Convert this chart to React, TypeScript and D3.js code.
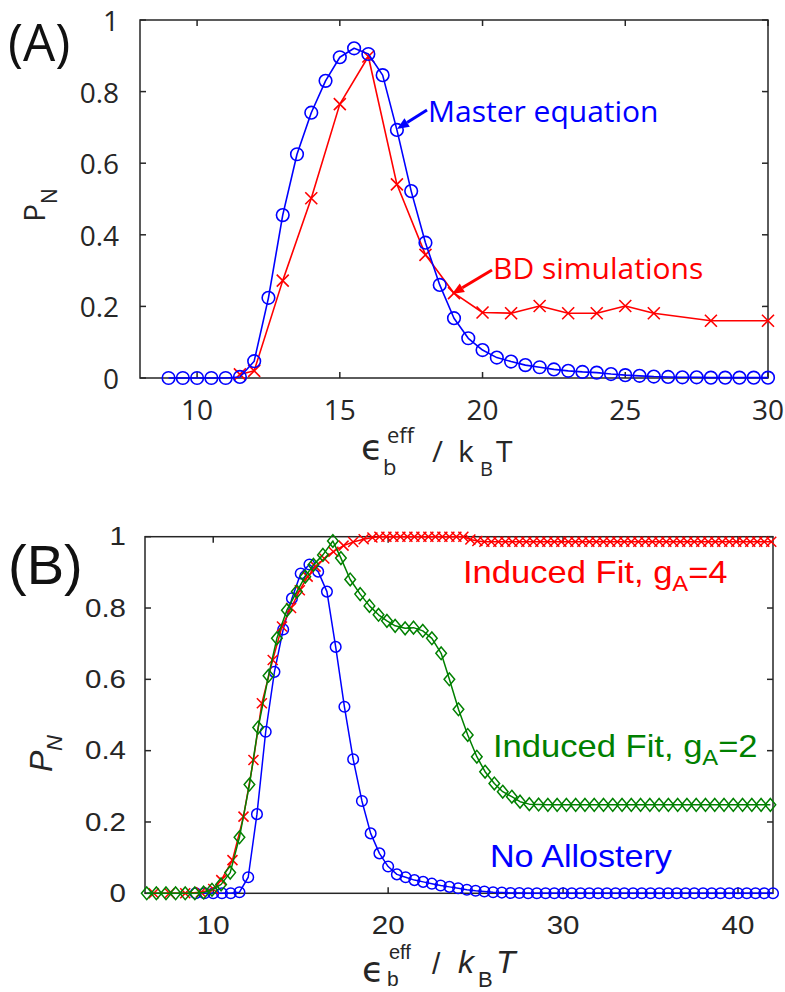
import React from "react";
import * as d3 from "d3";

const W = 785;
const H = 992;

// ---------- Panel A data ----------
const xA_master = [9, 9.5, 10, 10.5, 11, 11.5, 12, 12.5, 13, 13.5, 14, 14.5, 15, 15.5, 16, 16.5, 17, 17.5, 18, 18.5, 19, 19.5, 20, 20.5, 21, 21.5, 22, 22.5, 23, 23.5, 24, 24.5, 25, 25.5, 26, 26.5, 27, 27.5, 28, 28.5, 29, 29.5, 30];
const yA_master = [0, 0, 0, 0, 0, 0.003, 0.047, 0.224, 0.455, 0.625, 0.741, 0.83, 0.896, 0.921, 0.905, 0.846, 0.693, 0.522, 0.378, 0.26, 0.167, 0.111, 0.078, 0.057, 0.046, 0.036, 0.03, 0.024, 0.02, 0.017, 0.015, 0.011, 0.008, 0.006, 0.004, 0.003, 0.002, 0.002, 0.001, 0.001, 0.001, 0.001, 0.001];
const xA_bd = [11.5, 12, 13, 14, 15, 16, 17, 18, 19, 20, 21, 22, 23, 24, 25, 26, 28, 30];
const yA_bd = [0.01, 0.02, 0.272, 0.502, 0.765, 0.898, 0.541, 0.344, 0.237, 0.183, 0.181, 0.201, 0.181, 0.181, 0.201, 0.181, 0.16, 0.16];

const ticksAx = [10, 15, 20, 25, 30];
const ticksY = [0, 0.2, 0.4, 0.6, 0.8, 1];
const tickLabelsY = ["0", "0.2", "0.4", "0.6", "0.8", "1"];

// ---------- Panel B data ----------
const xB_none = [9, 9.5, 10, 10.5, 11, 11.5, 12, 12.5, 13, 13.5, 14, 14.5, 15, 15.5, 16, 16.5, 17, 17.5, 18, 18.5, 19, 19.5, 20, 20.5, 21, 21.5, 22, 22.5, 23, 23.5, 24, 24.5, 25, 25.5, 26, 26.5, 27, 27.5, 28, 28.5, 29, 29.5, 30, 30.5, 31, 31.5, 32, 32.5, 33, 33.5, 34, 34.5, 35, 35.5, 36, 36.5, 37, 37.5, 38, 38.5, 39, 39.5, 40, 40.5, 41, 41.5, 42];
const yB_none = [0, 0, 0, 0, 0, 0.003, 0.045, 0.222, 0.453, 0.621, 0.74, 0.827, 0.897, 0.922, 0.902, 0.846, 0.691, 0.523, 0.376, 0.259, 0.168, 0.112, 0.075, 0.053, 0.045, 0.037, 0.032, 0.027, 0.022, 0.018, 0.014, 0.01, 0.007, 0.005, 0.003, 0.002, 0.001, 0.001, 0, 0, 0, 0, 0, 0, 0, 0, 0, 0, 0, 0, 0, 0, 0, 0, 0, 0, 0, 0, 0, 0, 0, 0, 0, 0, 0, 0, 0];

const xB_fit2 = [6.2, 6.75, 7.3, 7.85, 8.4, 8.95, 9.45, 9.93, 10.45, 10.97, 11.5, 12.07, 12.57, 13.16, 13.64, 14.21, 14.78, 15.26, 15.73, 16.27, 16.84, 17.3, 17.83, 18.4, 18.93, 19.45, 19.93, 20.4, 20.97, 21.45, 21.98, 22.5, 23.03, 23.5, 24.02, 24.55, 25.07, 25.54, 26.07, 26.55, 27.07, 27.54, 28.07, 28.6, 29.13, 29.66, 30.19, 30.72, 31.25, 31.78, 32.31, 32.84, 33.37, 33.9, 34.43, 34.96, 35.49, 36.02, 36.55, 37.08, 37.61, 38.14, 38.67, 39.2, 39.73, 40.26, 40.79, 41.32, 41.85];
const yB_fit2 = [0, 0, 0, 0, 0, 0, 0.002, 0.01, 0.025, 0.058, 0.157, 0.305, 0.465, 0.61, 0.715, 0.794, 0.846, 0.888, 0.921, 0.949, 0.988, 0.94, 0.88, 0.839, 0.806, 0.781, 0.764, 0.75, 0.743, 0.745, 0.736, 0.715, 0.673, 0.6, 0.516, 0.444, 0.383, 0.341, 0.308, 0.285, 0.271, 0.257, 0.25, 0.249, 0.248, 0.248, 0.248, 0.248, 0.248, 0.248, 0.248, 0.248, 0.248, 0.248, 0.248, 0.248, 0.248, 0.248, 0.248, 0.248, 0.248, 0.248, 0.248, 0.248, 0.248, 0.248, 0.248, 0.248, 0.248];

const xB_fit4 = [6.6, 7.5, 8.4, 9.3, 10.0, 10.46, 11.1, 11.73, 12.3, 12.78, 13.4, 13.93, 14.45, 14.95, 15.4, 15.85, 16.35, 16.87, 17.45, 18.0, 18.6, 19.1, 19.5, 19.9, 20.3, 20.7, 21.1, 21.5, 21.9, 22.3, 22.7, 23.1, 23.5, 23.9, 24.3, 24.7, 25.1, 25.5, 25.9, 26.3, 26.7, 27.1, 27.5, 27.9, 28.3, 28.7, 29.1, 29.5, 29.9, 30.3, 30.7, 31.1, 31.5, 31.9, 32.3, 32.7, 33.1, 33.5, 33.9, 34.3, 34.7, 35.1, 35.5, 35.9, 36.3, 36.7, 37.1, 37.5, 37.9, 38.3, 38.7, 39.1, 39.5, 39.9, 40.3, 40.7, 41.1, 41.5, 41.9];
const yB_fit4 = [0, 0, 0, 0.003, 0.012, 0.037, 0.093, 0.215, 0.374, 0.533, 0.654, 0.748, 0.8, 0.85, 0.888, 0.916, 0.939, 0.958, 0.975, 0.985, 0.993, 0.998, 1, 1, 1, 1, 1, 1, 1, 1, 1, 1, 1, 1, 1, 0.992, 0.988, 0.986, 0.986, 0.986, 0.986, 0.986, 0.986, 0.986, 0.986, 0.986, 0.986, 0.986, 0.986, 0.986, 0.986, 0.986, 0.986, 0.986, 0.986, 0.986, 0.986, 0.986, 0.986, 0.986, 0.986, 0.986, 0.986, 0.986, 0.986, 0.986, 0.986, 0.986, 0.986, 0.986, 0.986, 0.986, 0.986, 0.986, 0.986, 0.986, 0.986, 0.986, 0.986];

const ticksBx = [10, 20, 30, 40];

const BLUE = "#0000ff";
const RED = "#ff0000";
const GREEN = "#008000";
const AXIS = "#262626";

const FONT_A = "'Open Sans', sans-serif";
const FONT_B = "'Liberation Sans', Arial, sans-serif";
const FONT_MATH = "'DejaVu Sans', sans-serif";

type Marker = "circle" | "cross" | "diamond";

function Series(props: {
  xs: number[]; ys: number[]; x: any; y: any; color: string; marker: Marker; size: number; lw: number;
}) {
  const { xs, ys, x, y, color, marker, size, lw } = props;
  const pts: [number, number][] = xs.map((v, i) => [x(v), y(ys[i])]);
  const d = d3.line()(pts) || "";
  return (
    <g>
      <path d={d} fill="none" stroke={color} strokeWidth={lw} strokeLinejoin="round" />
      {pts.map(([px, py], i) => {
        if (marker === "circle")
          return <circle key={i} cx={px} cy={py} r={size} fill="none" stroke={color} strokeWidth={lw} />;
        if (marker === "cross")
          return (
            <path key={i}
              d={`M${px - size},${py - size}L${px + size},${py + size}M${px - size},${py + size}L${px + size},${py - size}`}
              stroke={color} strokeWidth={lw} fill="none" />
          );
        return (
          <path key={i}
            d={`M${px},${py - size * 1.2}L${px + size},${py}L${px},${py + size * 1.2}L${px - size},${py}Z`}
            stroke={color} strokeWidth={lw} fill="none" />
        );
      })}
    </g>
  );
}

function Frame(props: {
  x: any; y: any; xt: number[]; yt: number[]; ytl: string[]; font: string; fs: number;
  xLabelBase: number; yLabelRight: number; tl: number; sx?: number;
}) {
  const { x, y, xt, yt, ytl, font, fs, xLabelBase, yLabelRight, tl } = props;
  const sx = props.sx || 1;
  const [x0, x1] = x.range();
  const [y0, y1] = y.range();
  return (
    <g>
      <rect x={x0} y={y1} width={x1 - x0} height={y0 - y1} fill="none" stroke={AXIS} strokeWidth={1.5} />
      {xt.map((t) => (
        <g key={"xt" + t}>
          <line x1={x(t)} x2={x(t)} y1={y0} y2={y0 - tl} stroke={AXIS} strokeWidth={1.5} />
          <line x1={x(t)} x2={x(t)} y1={y1} y2={y1 + tl} stroke={AXIS} strokeWidth={1.5} />
          <text transform={`translate(${x(t)},${xLabelBase}) scale(${sx},1)`} textAnchor="middle"
            fontFamily={font} fontSize={fs} fill={AXIS}>{t}</text>
        </g>
      ))}
      {yt.map((t, i) => (
        <g key={"yt" + t}>
          <line x1={x0} x2={x0 + tl} y1={y(t)} y2={y(t)} stroke={AXIS} strokeWidth={1.5} />
          <line x1={x1} x2={x1 - tl} y1={y(t)} y2={y(t)} stroke={AXIS} strokeWidth={1.5} />
          <text transform={`translate(${yLabelRight},${y(t)}) scale(${sx},1)`} textAnchor="end"
            dominantBaseline="central" fontFamily={font} fontSize={fs} fill={AXIS}>{ytl[i]}</text>
        </g>
      ))}
    </g>
  );
}

function Arrow(props: { x1: number; y1: number; x2: number; y2: number; color: string }) {
  const { x1, y1, x2, y2, color } = props;
  const ang = Math.atan2(y2 - y1, x2 - x1);
  const hl = 12, hw = 5;
  const bx = x2 - hl * Math.cos(ang);
  const by = y2 - hl * Math.sin(ang);
  const px = -Math.sin(ang) * hw;
  const py = Math.cos(ang) * hw;
  return (
    <g>
      <line x1={x1} y1={y1} x2={bx} y2={by} stroke={color} strokeWidth={3} />
      <path d={`M${x2},${y2}L${bx + px},${by + py}L${bx - px},${by - py}Z`} fill={color} />
    </g>
  );
}

export default function App() {
  const xA = d3.scaleLinear().domain([8, 30]).range([140, 768]);
  const yA = d3.scaleLinear().domain([0, 1]).range([378, 20]);
  const xB = d3.scaleLinear().domain([6.1, 42]).range([145, 773]);
  const yB = d3.scaleLinear().domain([0, 1]).range([893.3, 536.7]);

  return (
    <svg width={W} height={H} viewBox={`0 0 ${W} ${H}`}
      style={{ position: "absolute", left: 0, top: 0, display: "block", background: "#fff" }}>
      <rect x={0} y={0} width={W} height={H} fill="#fff" />

      {/* ---------- Panel A ---------- */}
      <text x={8} y={61} fontFamily={FONT_A} fontSize={51} fill="#111">(A)</text>
      <Frame x={xA} y={yA} xt={ticksAx} yt={ticksY} ytl={tickLabelsY} font={FONT_A} fs={28}
        xLabelBase={420} yLabelRight={119} tl={6} />
      <Series xs={xA_bd} ys={yA_bd} x={xA} y={yA} color={RED} marker="cross" size={6} lw={1.6} />
      <Series xs={xA_master} ys={yA_master} x={xA} y={yA} color={BLUE} marker="circle" size={6.3} lw={1.6} />
      <Arrow x1={427} y1={110} x2={397} y2={129} color={BLUE} />
      <text x={428} y={122} fontFamily={FONT_A} fontSize={30} fill={BLUE}>Master equation</text>
      <Arrow x1={492} y1={270} x2={452} y2={294} color={RED} />
      <text x={493} y={279} fontFamily={FONT_A} fontSize={30} fill={RED}>BD simulations</text>

      <g transform="translate(45,222) rotate(-90)">
        <text x={0} y={0} fontFamily={FONT_A} fontSize={30} fill={AXIS}>P</text>
        <text x={18} y={12} fontFamily={FONT_A} fontSize={21} fill={AXIS}>N</text>
      </g>
      <g fill={AXIS}>
        <text x={361} y={460} fontFamily={FONT_MATH} fontSize={36}>ϵ</text>
        <text x={387} y={443} fontFamily={FONT_A} fontSize={22}>eff</text>
        <text x={383} y={475} fontFamily={FONT_A} fontSize={22}>b</text>
        <text x={432} y={462} fontFamily={FONT_A} fontSize={30}>/</text>
        <text x={458} y={462} fontFamily={FONT_A} fontSize={30}>k</text>
        <text x={480} y={476} fontFamily={FONT_A} fontSize={20}>B</text>
        <text x={496} y={462} fontFamily={FONT_A} fontSize={30}>T</text>
      </g>

      {/* ---------- Panel B ---------- */}
      <text x={8} y={584} fontFamily={FONT_B} fontSize={56} fill="#111">(B)</text>
      <Frame x={xB} y={yB} xt={ticksBx} yt={ticksY} ytl={tickLabelsY} font={FONT_B} fs={25}
        xLabelBase={934} yLabelRight={126} tl={6} sx={1.18} />
      <Series xs={xB_none} ys={yB_none} x={xB} y={yB} color={BLUE} marker="circle" size={5.3} lw={1.5} />
      <Series xs={xB_fit4} ys={yB_fit4} x={xB} y={yB} color={RED} marker="cross" size={5} lw={1.5} />
      <Series xs={xB_fit2} ys={yB_fit2} x={xB} y={yB} color={GREEN} marker="diamond" size={5.3} lw={1.5} />

      <text transform="translate(463,583) scale(1.08,1)" fontFamily={FONT_B} fontSize={32} fill={RED}>
        Induced Fit, g<tspan fontSize={22} dy={8}>A</tspan><tspan dy={-8}>=4</tspan>
      </text>
      <text transform="translate(493,757) scale(1.08,1)" fontFamily={FONT_B} fontSize={32} fill={GREEN}>
        Induced Fit, g<tspan fontSize={22} dy={8}>A</tspan><tspan dy={-8}>=2</tspan>
      </text>
      <text transform="translate(490,867) scale(1.1,1)" fontFamily={FONT_B} fontSize={31} fill={BLUE}>
        No Allostery
      </text>

      <g transform="translate(52,772) rotate(-90)">
        <text x={0} y={0} fontFamily={FONT_B} fontStyle="italic" fontSize={32} fill={AXIS}>P</text>
        <text x={21} y={10} fontFamily={FONT_B} fontStyle="italic" fontSize={22} fill={AXIS}>N</text>
      </g>
      <g fill={AXIS}>
        <text x={362} y={982} fontFamily={FONT_MATH} fontSize={36}>ϵ</text>
        <text x={389} y={959} fontFamily={FONT_B} fontSize={20}>eff</text>
        <text x={387} y={986} fontFamily={FONT_B} fontSize={21}>b</text>
        <text x={432} y={974} fontFamily={FONT_B} fontSize={30}>/</text>
        <text x={458} y={973} fontFamily={FONT_B} fontStyle="italic" fontSize={32}>k</text>
        <text x={478} y={987} fontFamily={FONT_B} fontSize={22}>B</text>
        <text x={496} y={973} fontFamily={FONT_B} fontStyle="italic" fontSize={32}>T</text>
      </g>
    </svg>
  );
}
